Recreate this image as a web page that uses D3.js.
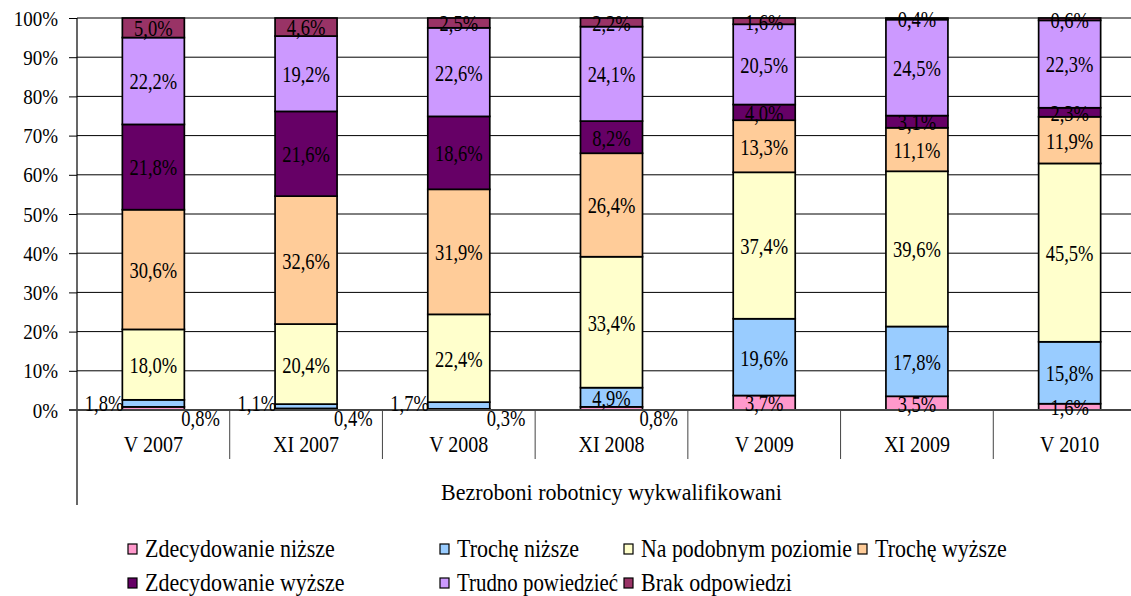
<!DOCTYPE html>
<html>
<head>
<meta charset="utf-8">
<script src="https://cdnjs.cloudflare.com/ajax/libs/d3/7.8.5/d3.min.js"></script>
<style>
  body { margin: 0; background: #fff; }
  svg { display: block; }
  svg text { font-family: "Liberation Serif", "Times New Roman", "DejaVu Serif", serif; fill: #000; }
</style>
</head>
<body>
<svg id="chart" width="1131" height="596"></svg>
<script>
// categories (survey waves)
var waves = ["V 2007", "XI 2007", "V 2008", "XI 2008", "V 2009", "XI 2009", "V 2010"];
var groupTitle = "Bezroboni robotnicy wykwalifikowani";

var answers = ["Zdecydowanie niższe", "Trochę niższe", "Na podobnym poziomie", "Trochę wyższe",
               "Zdecydowanie wyższe", "Trudno powiedzieć", "Brak odpowiedzi"];
var colors = ["#ff99cc", "#99ccff", "#ffffcc", "#ffcc99", "#660066", "#cc99ff", "#993366"];

// percentages per answer, one value per wave
var zdecNizsze   = [0.8, 0.4, 0.3, 0.8, 3.7, 3.5, 1.6];
var trocheNizsze = [1.8, 1.1, 1.7, 4.9, 19.6, 17.8, 15.8];
var podobny      = [18.0, 20.4, 22.4, 33.4, 37.4, 39.6, 45.5];
var trocheWyzsze = [30.6, 32.6, 31.9, 26.4, 13.3, 11.1, 11.9];
var zdecWyzsze   = [21.8, 21.6, 18.6, 8.2, 4.0, 3.1, 2.3];
var trudno       = [22.2, 19.2, 22.6, 24.1, 20.5, 24.5, 22.3];
var brak         = [5.0, 4.6, 2.5, 2.2, 1.6, 0.4, 0.6];

var yTicks = [0, 10, 20, 30, 40, 50, 60, 70, 80, 90, 100];

var series = [zdecNizsze, trocheNizsze, podobny, trocheWyzsze, zdecWyzsze, trudno, brak];

var svg = d3.select("#chart");
var plotLeft = 77, plotRight = 1146, plotTop = 18, plotBottom = 410;

var x = d3.scaleBand().domain(waves).range([plotLeft, plotRight]).paddingInner(0).paddingOuter(0);
var y = d3.scaleLinear().domain([0, 100]).range([plotBottom, plotTop]);
var barW = 62;

// 100% stacked: normalise each column
var rows = waves.map(function(w, i) {
  var r = {wave: w};
  var total = d3.sum(series, function(s) { return s[i]; });
  answers.forEach(function(a, k) { r[a] = series[k][i] / total * 100; r[a + "_raw"] = series[k][i]; });
  return r;
});
var stacked = d3.stack().keys(answers)(rows);

function fmt(v) { return v.toFixed(1).replace(".", ",") + "%"; }

// text centred vertically on yc, a bit stretched in height like the original
function place(t, px, yc, s) {
  return t.attr("transform", "translate(" + px + "," + yc + ") scale(1," + s + ")")
    .attr("x", 0).attr("y", 0).attr("dy", "0.35em");
}

// gridlines
svg.append("g").selectAll("line")
  .data(yTicks.filter(function(d) { return d > 0; }))
  .enter().append("line")
    .attr("x1", plotLeft).attr("x2", plotRight)
    .attr("y1", function(d) { return y(d); }).attr("y2", function(d) { return y(d); })
    .attr("stroke", "#000").attr("stroke-width", 1);

// y axis
var yAxis = svg.append("g").attr("transform", "translate(" + plotLeft + ",0)")
  .call(d3.axisLeft(y).tickValues(yTicks).tickSize(8).tickPadding(11)
    .tickFormat(function(d) { return d + "%"; }));
yAxis.attr("font-family", null).attr("font-size", null);
yAxis.select(".domain").remove();
yAxis.selectAll(".tick line").attr("stroke", "#000");
yAxis.selectAll(".tick text").style("font-size", "19px")
  .attr("transform", "scale(1,1.12)").attr("y", 0).attr("dy", "0.33em");
svg.append("line").attr("x1", plotLeft).attr("x2", plotLeft).attr("y1", plotTop).attr("y2", 505)
  .attr("stroke", "#000").attr("stroke-width", 1.2);

// bars
var layer = svg.append("g").selectAll("g").data(stacked).enter().append("g")
  .attr("fill", function(d, i) { return colors[i]; });
layer.selectAll("rect").data(function(d) { return d; }).enter().append("rect")
  .attr("x", function(d) { return x(d.data.wave) + x.bandwidth() / 2 - barW / 2; })
  .attr("width", barW)
  .attr("y", function(d) { return y(d[1]); })
  .attr("height", function(d) { return y(d[0]) - y(d[1]); })
  .attr("stroke", "#000").attr("stroke-width", 1.7);

// category axis line
svg.append("line").attr("x1", plotLeft - 8).attr("x2", plotRight).attr("y1", plotBottom).attr("y2", plotBottom)
  .attr("stroke", "#444").attr("stroke-width", 2);

// separators between categories
svg.append("g").selectAll("line").data(waves.slice(1)).enter().append("line")
  .attr("x1", function(d) { return x(d); }).attr("x2", function(d) { return x(d); })
  .attr("y1", plotBottom).attr("y2", 459)
  .attr("stroke", "#444").attr("stroke-width", 1);

svg.append("g").selectAll("text").data(waves).enter().append("text")
  .attr("text-anchor", "middle").style("font-size", "20px")
  .text(function(d) { return d; })
  .each(function(d) { place(d3.select(this), x(d) + x.bandwidth() / 2, 444, 1.12); });

place(svg.append("text").attr("text-anchor", "middle").style("font-size", "22px").text(groupTitle),
  (plotLeft + plotRight) / 2, 492, 1.05);

// value labels
var labels = svg.append("g");
stacked.forEach(function(s, k) {
  s.forEach(function(d) {
    var v = d.data[answers[k] + "_raw"];
    var cx = x(d.data.wave) + x.bandwidth() / 2;
    var t = labels.append("text").style("font-size", "18.5px").text(fmt(v));
    if (k === 0 && v < 1) {
      place(t.attr("text-anchor", "start"), cx + barW / 2 - 3, plotBottom + 8, 1.3);
    } else if (k === 1 && v < 2) {
      place(t.attr("text-anchor", "end"), cx - barW / 2 + 1, plotBottom - 7, 1.3);
    } else {
      place(t.attr("text-anchor", "middle"), cx, (y(d[0]) + y(d[1])) / 2, 1.3);
    }
  });
});

// legend (two rows, four columns)
var legendCols = [128, 440, 624, 858];
var legendRows = [549, 583];
var leg = svg.append("g").selectAll("g").data(answers).enter().append("g")
  .attr("transform", function(d, i) {
    return "translate(" + legendCols[i % 4] + "," + legendRows[Math.floor(i / 4)] + ")";
  });
leg.append("rect").attr("x", 0).attr("y", -5).attr("width", 9).attr("height", 10)
  .attr("fill", function(d, i) { return colors[i]; }).attr("stroke", "#000").attr("stroke-width", 1.2);
leg.append("text").style("font-size", "22px").text(function(d) { return d; })
  .each(function(d, i) {
    var t = place(d3.select(this), 17, 0, 1.1);
    // keep each entry clear of the next square in its row
    var col = i % 4;
    if (col < 3 && i + 1 < answers.length) {
      var room = legendCols[col + 1] - legendCols[col] - 17 - 6;
      if (this.getComputedTextLength() > room) {
        t.attr("textLength", room).attr("lengthAdjust", "spacingAndGlyphs");
      }
    }
  });
</script>
</body>
</html>
